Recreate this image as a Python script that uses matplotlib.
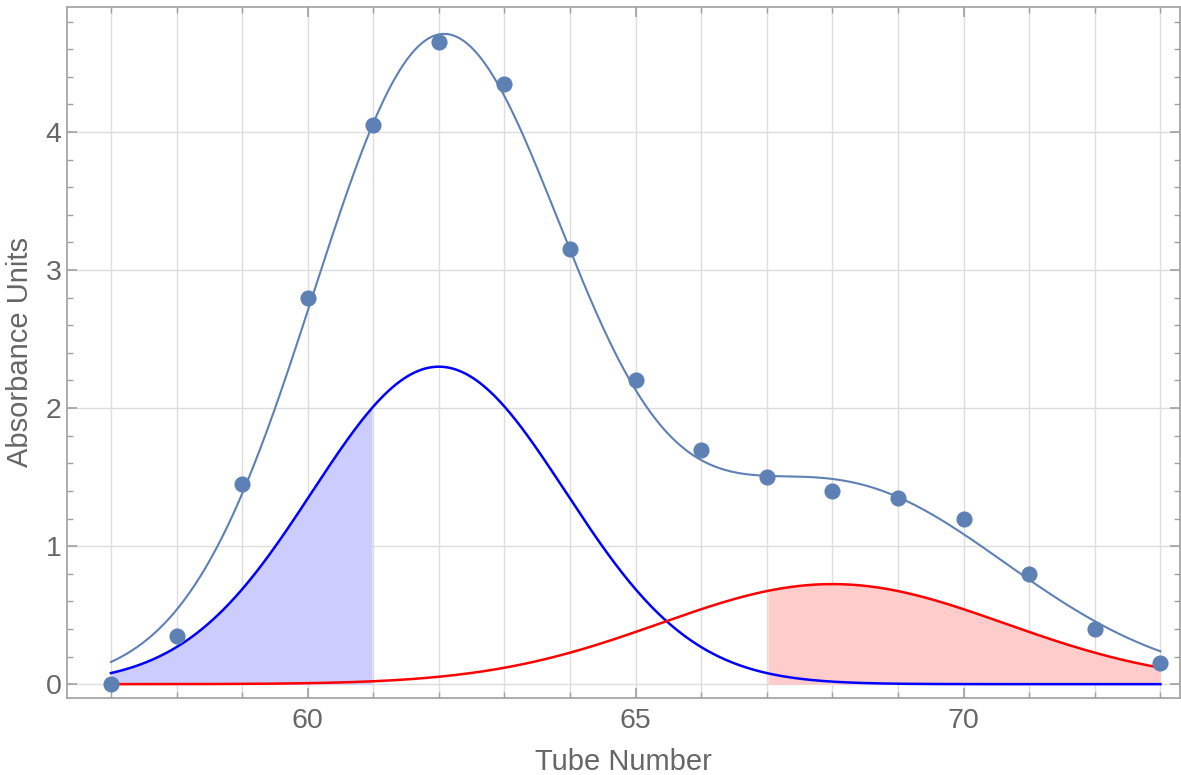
import numpy as np
import matplotlib
matplotlib.use("Agg")
import matplotlib.pyplot as plt
from matplotlib.ticker import MultipleLocator

plt.rcParams['font.family'] = ['Liberation Sans', 'DejaVu Sans']

# Measured absorbance per tube
tubes = [57, 58, 59, 60, 61, 62, 63, 64, 65, 66, 67, 68, 69, 70, 71, 72, 73]
absorbance = [0.0, 0.35, 1.45, 2.80, 4.05, 4.65, 4.35, 3.15, 2.20,
              1.70, 1.50, 1.40, 1.35, 1.20, 0.80, 0.40, 0.15]

# Gaussian components (amplitude, centre, width) of the fitted model
peak1 = [2.30, 62.0, 1.93]
peak2 = [0.725, 68.0, 2.63]
fit_scale = 2.0  # total fit = fit_scale * (peak1 + peak2)

# Integration windows shaded under each component
window1 = [57, 61]
window2 = [67, 73]

x_ticks = [60, 65, 70]
y_ticks = [0, 1, 2, 3, 4]


def gauss(x, p):
    a, mu, s = p
    return a * np.exp(-(x - mu) ** 2 / (2 * s ** 2))


fig = plt.figure(figsize=(11.81, 7.75), dpi=100)
ax = fig.add_axes([0.0567, 0.0994, 0.9425, 0.8916])

xs = np.linspace(tubes[0], tubes[-1], 600)
g1 = gauss(xs, peak1)
g2 = gauss(xs, peak2)

m1 = (xs >= window1[0]) & (xs <= window1[1])
m2 = (xs >= window2[0]) & (xs <= window2[1])
ax.fill_between(xs[m1], 0, g1[m1], color='#ccccff', lw=0, zorder=1)
ax.fill_between(xs[m2], 0, g2[m2], color='#ffcccc', lw=0, zorder=1)

ax.plot(xs, fit_scale * (g1 + g2), color='#5e81b5', lw=1.5, zorder=3)
ax.plot(xs, g1, color='#0000ff', lw=1.8, zorder=3)
ax.plot(xs, g2, color='#ff0000', lw=1.8, zorder=3)
ax.scatter(tubes, absorbance, s=135, color='#5e81b5', zorder=4, lw=0)

ax.set_xlim(56.33, 73.3)
ax.set_ylim(-0.1, 4.906)

ax.xaxis.set_major_locator(MultipleLocator(5))
ax.xaxis.set_minor_locator(MultipleLocator(1))
ax.yaxis.set_major_locator(MultipleLocator(1))
ax.yaxis.set_minor_locator(MultipleLocator(0.2))
ax.set_xticks(x_ticks)
ax.set_yticks(y_ticks)

ax.grid(True, which='both', axis='x', color='#dddddd', lw=1, zorder=0)
ax.grid(True, which='major', axis='y', color='#dddddd', lw=1, zorder=0)
ax.set_axisbelow(True)

for sp in ax.spines.values():
    sp.set_color('#a0a0a0')
    sp.set_linewidth(1.2)

ax.tick_params(which='both', direction='in', top=True, right=True,
               color='#a0a0a0', labelcolor='#666666', labelsize=20.5)
ax.tick_params(axis='x', which='major', pad=7)
ax.tick_params(axis='y', which='major', pad=4)
ax.tick_params(which='major', length=7, width=1.2)
ax.tick_params(which='minor', length=4, width=1)

ax.set_xlabel('Tube Number', fontsize=21, color='#666666', labelpad=10)
ax.set_ylabel('Absorbance Units', fontsize=21, color='#666666', labelpad=8)

fig.savefig('out.png', dpi=100)
